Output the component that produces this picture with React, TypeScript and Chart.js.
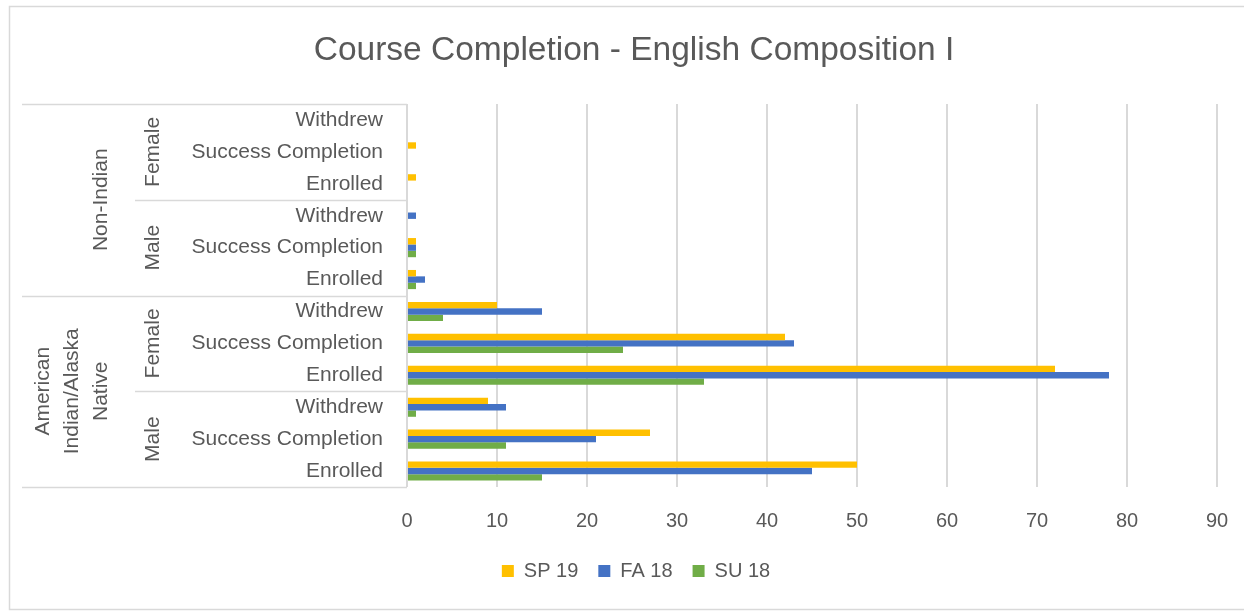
import React, { useEffect, useRef } from "react";
import { Chart, registerables } from "chart.js";

Chart.register(...registerables);

// Categories listed top to bottom, as they appear in the chart
const groups = ["Non-Indian", "American Indian/Alaska Native"];
const genders = ["Female", "Male", "Female", "Male"];
const outcomes = [
  "Withdrew", "Success Completion", "Enrolled",
  "Withdrew", "Success Completion", "Enrolled",
  "Withdrew", "Success Completion", "Enrolled",
  "Withdrew", "Success Completion", "Enrolled",
];

const seriesNames = ["SP 19", "FA 18", "SU 18"];
const sp19 = [0, 1, 1, 0, 1, 1, 10, 42, 72, 9, 27, 50];
const fa18 = [0, 0, 0, 1, 1, 2, 15, 43, 78, 11, 21, 45];
const su18 = [0, 0, 0, 0, 1, 1, 4, 24, 33, 1, 11, 15];

const xMin = 0;
const xMax = 90;
const xStep = 10;

const titleText = "Course Completion - English Composition I";

const FONT = "'Liberation Sans', Arial, sans-serif";
const TEXT = "#595959";
const LINE = "#d9d9d9";
const COLORS = ["#FFC000", "#4472C4", "#70AD47"];

const PAD_LEFT = 55;

function wrap(ctx: CanvasRenderingContext2D, text: string, maxW: number): string[] {
  const words = text.split(" ");
  const lines: string[] = [];
  let cur = "";
  for (const w of words) {
    const test = cur ? cur + " " + w : w;
    if (cur && ctx.measureText(test).width > maxW) {
      lines.push(cur);
      cur = w;
    } else cur = test;
  }
  if (cur) lines.push(cur);
  return lines;
}

const hierarchyPlugin = {
  id: "hierarchy",
  afterDraw(chart: any) {
    const { ctx, chartArea } = chart;
    const y = chart.scales.y;
    const n = outcomes.length;
    const step = y.getPixelForValue(1) - y.getPixelForValue(0);
    const edge = (i: number) => y.getPixelForValue(0) + (i - 0.5) * step;
    const line = (x0: number, y0: number, x1: number, y1: number) => {
      ctx.beginPath();
      ctx.moveTo(x0, y0);
      ctx.lineTo(x1, y1);
      ctx.stroke();
    };
    ctx.save();
    ctx.strokeStyle = LINE;
    ctx.lineWidth = 1.5;
    // outer border
    ctx.beginPath();
    ctx.moveTo(1244, 6.5);
    ctx.lineTo(9.5, 6.5);
    ctx.lineTo(9.5, 609.5);
    ctx.lineTo(1244, 609.5);
    ctx.stroke();

    // title
    ctx.fillStyle = TEXT;
    ctx.font = `33.5px ${FONT}`;
    ctx.textAlign = "center";
    ctx.textBaseline = "middle";
    ctx.fillText(titleText, 634, 51);

    const perGender = n / genders.length;
    const perGroup = n / groups.length;
    const right = chartArea.left;
    ctx.strokeStyle = LINE;
    ctx.lineWidth = 1.5;
    for (let i = 0; i <= n; i++) {
      let x0: number;
      if (i % perGroup === 0) x0 = 22;
      else if (i % perGender === 0) x0 = 135;
      else continue;
      const py = Math.round(edge(i)) + 0.5;
      line(x0, py, right, py);
    }
    line(right, edge(0), right, edge(n));

    ctx.fillStyle = TEXT;
    ctx.font = `21px ${FONT}`;
    ctx.textAlign = "center";
    ctx.textBaseline = "middle";
    genders.forEach((g, k) => {
      const cy = (edge(k * perGender) + edge((k + 1) * perGender)) / 2;
      ctx.save();
      ctx.translate(153, cy);
      ctx.rotate(-Math.PI / 2);
      ctx.fillText(g, 0, 0);
      ctx.restore();
    });
    groups.forEach((g, k) => {
      const top = edge(k * perGroup);
      const bottom = edge((k + 1) * perGroup);
      const cy = (top + bottom) / 2;
      const lines = wrap(ctx, g, (bottom - top) * 0.85);
      lines.forEach((ln, j) => {
        const cx = 101 - (lines.length - 1 - j) * 29;
        ctx.save();
        ctx.translate(cx, cy);
        ctx.rotate(-Math.PI / 2);
        ctx.fillText(ln, 0, 0);
        ctx.restore();
      });
    });
    ctx.restore();
  },
};

export default function App() {
  const ref = useRef<HTMLCanvasElement | null>(null);
  useEffect(() => {
    if (!ref.current) return;
    const chart = new Chart(ref.current, {
      type: "bar",
      data: {
        labels: outcomes,
        datasets: [sp19, fa18, su18].map((d, i) => ({
          label: seriesNames[i],
          data: d,
          backgroundColor: COLORS[i],
          borderWidth: 0,
          categoryPercentage: 0.6,
          barPercentage: 1,
        })),
      },
      options: {
        indexAxis: "y",
        animation: false,
        responsive: false,
        devicePixelRatio: 1,
        layout: { padding: { top: 104, left: PAD_LEFT, right: 27, bottom: 21 } },
        plugins: {
          title: { display: false },
          tooltip: { enabled: false },
          legend: {
            position: "bottom",
            labels: {
              font: { family: FONT, size: 20 },
              color: TEXT,
              boxWidth: 12,
              boxHeight: 12,
              padding: 20,
            },
          },
        },
        scales: {
          x: {
            min: xMin,
            max: xMax,
            ticks: {
              stepSize: xStep,
              font: { family: FONT, size: 20 },
              color: TEXT,
              padding: 0,
            },
            grid: {
              color: LINE,
              lineWidth: 2,
              drawTicks: true,
              tickLength: 22,
              tickColor: "rgba(0,0,0,0)",
            },
            border: { display: false },
            afterFit: (s: any) => {
              s.height = 54;
            },
          },
          y: {
            ticks: {
              font: { family: FONT, size: 21 },
              color: TEXT,
              padding: 24,
              autoSkip: false,
            },
            grid: { display: false, drawTicks: false },
            border: { display: false },
            afterFit: (s: any) => {
              s.width = 407 - PAD_LEFT;
            },
          },
        },
      },
      plugins: [hierarchyPlugin],
    });
    return () => chart.destroy();
  }, []);
  return (
    <div style={{ position: "fixed", left: 0, top: 0, width: 1244, height: 612, background: "#fff" }}>
      <canvas ref={ref} width={1244} height={612} />
    </div>
  );
}
